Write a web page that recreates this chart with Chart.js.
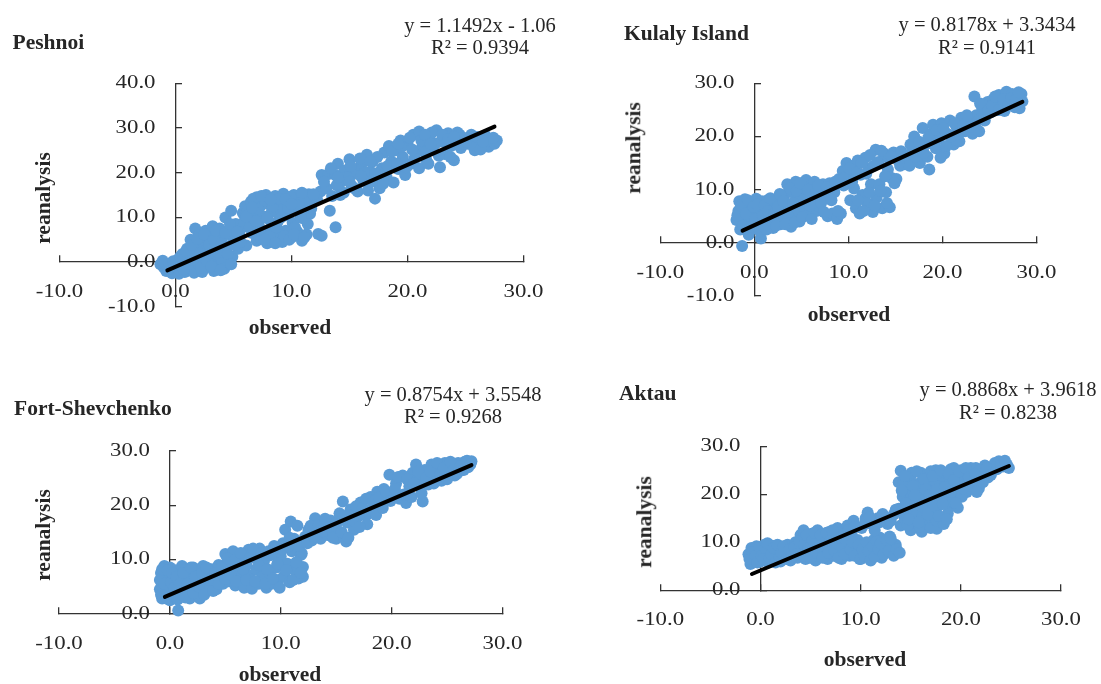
<!DOCTYPE html>
<html lang="en">
<head>
<meta charset="UTF-8">
<title>Observed vs reanalysis</title>
<script src="https://cdn.jsdelivr.net/npm/chart.js"></script>
<style>
  html, body { margin: 0; padding: 0; background: #fff; }
  body {
    width: 1101px; height: 684px; position: relative; overflow: hidden;
    font-family: "Liberation Serif", "Times New Roman", serif; color: #262626;
  }
  .box { position: absolute; }
  .txt { position: absolute; white-space: nowrap; line-height: 1; }
  .title { font-weight: bold; font-size: 21.5px; transform: translateY(-50%); }
  .eq { font-size: 20.5px; transform: translate(-50%, -50%); }
  .xt { font-weight: bold; font-size: 21.5px; transform: translate(-50%, -50%); }
  .yt { font-weight: bold; font-size: 21.5px; transform: translate(-50%, -50%) rotate(-90deg); }
</style>
</head>
<body>

<div class="box" style="left:0;top:0;width:550px;height:342px"><canvas id="c1"></canvas></div>
<div class="box" style="left:550px;top:0;width:551px;height:342px"><canvas id="c2"></canvas></div>
<div class="box" style="left:0;top:342px;width:550px;height:342px"><canvas id="c3"></canvas></div>
<div class="box" style="left:550px;top:342px;width:551px;height:342px"><canvas id="c4"></canvas></div>

<div class="txt title" style="left:12.5px;top:43px">Peshnoi</div>
<div class="txt eq" style="left:480px;top:25px">y = 1.1492x - 1.06</div>
<div class="txt eq" style="left:480px;top:47px">R² = 0.9394</div>
<div class="txt xt" style="left:290px;top:328px">observed</div>
<div class="txt yt" style="left:44px;top:198px">reanalysis</div>

<div class="txt title" style="left:624px;top:33.5px">Kulaly Island</div>
<div class="txt eq" style="left:987px;top:23.5px">y = 0.8178x + 3.3434</div>
<div class="txt eq" style="left:987px;top:46.7px">R² = 0.9141</div>
<div class="txt xt" style="left:849px;top:315px">observed</div>
<div class="txt yt" style="left:634px;top:148px">reanalysis</div>

<div class="txt title" style="left:14px;top:408.7px">Fort-Shevchenko</div>
<div class="txt eq" style="left:453px;top:393.7px">y = 0.8754x + 3.5548</div>
<div class="txt eq" style="left:453px;top:416px">R² = 0.9268</div>
<div class="txt xt" style="left:280px;top:675px">observed</div>
<div class="txt yt" style="left:44px;top:535px">reanalysis</div>

<div class="txt title" style="left:619px;top:393.7px">Aktau</div>
<div class="txt eq" style="left:1008px;top:388.7px">y = 0.8868x + 3.9618</div>
<div class="txt eq" style="left:1008px;top:412px">R² = 0.8238</div>
<div class="txt xt" style="left:865px;top:660px">observed</div>
<div class="txt yt" style="left:644.5px;top:522px">reanalysis</div>

<script>
// tick values
const xTicks = [-10, 0, 10, 20, 30];
const peshnoiTicks = [-10, 0, 10, 20, 30, 40];
const kulalyTicks = [-10, 0, 10, 20, 30];
const fortTicks = [0, 10, 20, 30];
const aktauTicks = [0, 10, 20, 30];

// [observed, reanalysis] pairs
const peshnoi = [
  [-1.3,-0.5],[-1.0,-1.2],[-0.8,-2.0],[-0.5,-0.3],[-0.3,-2.5],[0.0,-1.5],[0.2,0.5],[0.3,-2.6],[0.5,-0.8],[0.6,1.8],
  [0.8,-2.2],[1.0,0.2],[1.0,3.0],[1.2,-1.2],[1.3,5.0],[1.5,1.5],[1.6,-2.4],[1.7,7.5],[1.8,3.8],[2.0,-0.5],
  [2.0,6.0],[2.2,1.0],[2.3,-2.2],[2.4,4.5],[2.5,2.5],[2.6,7.0],[2.8,-1.0],[2.9,5.5],[3.0,0.8],[3.1,3.2],
  [3.2,8.0],[3.3,-2.0],[3.4,6.5],[3.5,1.8],[3.6,4.8],[3.7,-0.5],[3.8,7.5],[3.9,2.8],[4.0,0.5],[4.1,5.8],
  [4.2,-1.5],[4.3,10.0],[4.4,3.5],[4.6,7.0],[4.8,11.5],[4.9,1.2],[5.0,5.0],[5.2,8.5],[5.4,3.0],[5.5,6.2],
  [5.8,7.8],[5.8,11.0],[6.1,3.7],[6.0,12.5],[6.3,9.5],[6.5,13.5],[6.6,6.5],[6.8,11.0],[7.0,14.5],[7.0,4.8],
  [7.2,8.0],[7.3,12.5],[7.5,6.0],[7.6,10.2],[7.8,15.0],[7.9,4.2],[8.0,13.0],[8.2,7.5],[8.3,11.2],[8.5,5.0],
  [8.6,14.8],[8.8,9.0],[8.9,6.5],[9.0,12.0],[9.2,4.5],[9.3,15.3],[9.5,7.0],[9.6,10.5],[9.8,13.5],[10.0,5.5],
  [10.1,8.8],[10.2,15.0],[10.4,11.8],[10.5,6.8],[10.7,14.0],[10.9,4.8],[11.0,9.8],[11.2,12.8],[11.3,6.2],[11.5,15.2],
  [11.6,10.8],[11.8,13.5],[12.3,6.3],[12.6,5.9],[13.8,7.8],[13.3,11.5],[12.5,15.8],[12.2,14.0],[12.6,19.5],[13.2,19.7],
  [13.8,19.5],[13.0,16.5],[13.5,14.8],[14.0,22.0],[14.3,18.0],[14.5,15.5],[14.6,20.5],[15.0,23.0],[15.2,17.0],[15.5,19.8],
  [15.7,15.8],[16.0,21.5],[16.2,18.2],[16.5,24.0],[16.6,16.0],[16.8,20.2],[17.0,22.5],[17.2,14.2],[17.3,18.5],[17.6,16.5],
  [17.8,21.0],[18.0,24.5],[18.2,19.0],[18.4,26.0],[18.6,22.5],[18.8,17.8],[19.0,25.0],[19.2,20.8],[19.4,27.2],[19.6,23.5],
  [19.8,19.5],[20.0,26.5],[20.3,22.0],[20.5,28.5],[20.7,24.5],[21.0,29.2],[21.0,21.0],[21.3,26.0],[21.6,23.0],[21.9,28.0],
  [22.2,25.0],[22.5,29.5],[22.8,21.2],[22.9,27.0],[23.2,24.2],[23.5,28.8],[23.8,26.0],[24.0,22.8],[24.3,29.0],[24.6,25.5],
  [24.8,27.8],[25.2,26.5],[25.5,28.5],[25.8,25.0],[26.1,27.5],[26.4,26.0],[26.7,28.3],[27.0,25.8],[27.2,27.0],[27.5,26.5],
  [27.7,27.2],
  [-1.1,0.3],[-0.6,-1.5],[-0.2,0.2],[0.1,-0.6],[0.4,1.2],[0.7,-1.6],[0.9,2.4],[1.1,-0.4],[1.4,3.8],[1.5,0.6],
  [1.9,5.2],[2.1,2.0],[2.2,-1.2],[2.5,6.2],[2.7,0.2],[2.9,3.8],[3.1,-1.0],[3.3,5.0],[3.5,7.0],[3.7,2.2],
  [3.9,-1.8],[4.0,4.2],[4.3,6.5],[4.5,1.8],[4.7,8.5],[4.8,-0.5],[5.1,3.8],[5.3,6.8],[5.6,4.5],[5.9,9.0],
  [6.2,11.5],[6.4,7.8],[6.7,14.2],[6.9,9.2],[7.1,12.0],[7.4,5.2],[7.7,13.8],[7.9,9.8],[8.1,5.8],[8.4,12.5],
  [8.7,7.8],[8.9,14.2],[9.1,10.0],[9.4,5.8],[9.7,12.2],[9.9,14.6],[10.3,7.8],[10.6,12.8],[10.8,10.0],[11.1,14.6],
  [11.4,8.5],[11.7,12.0],[12.8,18.0],[13.4,21.0],[13.9,17.2],[14.2,15.0],[14.8,19.0],[15.1,21.5],[15.4,16.5],[15.9,23.2],
  [16.3,20.0],[16.9,18.0],[17.4,23.5],[17.6,20.0],[17.9,17.5],[18.3,21.5],[18.7,24.8],[19.1,22.0],[19.5,25.8],[19.9,21.2],
  [20.2,27.8],[20.6,23.2],[21.2,27.2],[21.5,24.5],[21.8,22.0],[22.1,29.0],[22.4,26.5],[22.7,23.8],[23.0,28.5],[23.4,26.5],
  [23.7,23.5],[24.1,27.0],[24.5,28.5],[24.9,26.5],[25.3,27.5],[25.6,26.2],[26.0,28.0],[26.3,25.2],[26.9,27.2],[27.4,27.8],
  [6.1,10.2],[6.6,12.2],[7.4,14.8],[8.2,14.0],[9.5,14.0],[10.0,13.0],[10.9,15.5],[11.9,15.2],[7.7,5.0],[8.6,4.2],
  [9.8,5.0],[10.2,6.2],[11.1,5.5],[14.0,19.0],[15.0,18.0],[16.0,19.2],[16.8,22.5],[17.2,19.8],[19.2,26.5],[20.4,25.2],
  [21.5,28.5],[22.0,26.5],[23.5,27.5],[24.0,28.0],[25.0,27.0],[26.5,27.0]
];

const kulaly = [
  [-1.3,-0.6],[-1.9,4.3],[-1.7,6.0],[-1.6,7.8],[-1.5,2.5],[-1.3,5.2],[-1.0,8.2],[-1.0,3.5],[-0.8,6.8],[-0.6,1.5],
  [-0.5,4.5],[-0.3,7.5],[0.0,5.8],[0.0,2.8],[0.2,8.3],[0.4,4.0],[0.5,6.5],[0.7,0.8],[0.8,7.8],[1.0,3.0],
  [1.2,5.5],[1.4,8.0],[1.6,4.2],[1.8,6.8],[2.0,2.8],[2.2,7.5],[2.4,4.8],[2.6,8.5],[2.8,3.5],[3.0,6.0],
  [3.2,9.0],[3.4,4.5],[3.5,11.0],[3.7,7.2],[3.9,3.0],[4.0,9.5],[4.2,5.5],[4.4,11.5],[4.6,8.0],[4.8,4.0],
  [5.0,10.2],[5.2,6.5],[5.5,11.8],[5.6,8.8],[5.8,5.2],[6.0,10.8],[6.2,7.5],[6.4,11.5],[6.6,6.0],[6.9,6.8],
  [7.0,9.8],[7.3,11.0],[7.6,8.5],[7.8,5.0],[8.0,11.2],[8.3,5.5],[8.5,9.5],[8.8,4.5],[9.0,12.0],[9.2,5.5],
  [9.5,10.8],[9.4,13.5],[9.8,15.0],[10.0,12.5],[10.2,8.0],[10.5,14.5],[10.6,10.2],[10.8,6.5],[11.0,15.5],[11.2,5.5],
  [11.3,12.8],[11.5,9.0],[11.8,16.0],[12.0,7.5],[12.2,14.0],[12.4,11.0],[12.6,5.8],[12.9,17.5],[13.0,8.5],[13.2,15.2],
  [13.3,11.0],[13.6,6.5],[13.8,16.8],[14.0,9.5],[14.2,13.8],[14.4,6.7],[14.6,12.2],[14.8,17.0],[15.1,12.0],[15.3,15.5],
  [15.6,17.2],[16.0,14.8],[16.3,16.5],[16.6,18.5],[16.8,15.2],[17.0,20.0],[17.3,17.0],[17.6,15.0],[17.9,21.6],[18.2,18.5],
  [18.4,16.2],[18.6,13.8],[18.8,20.5],[19.0,22.2],[19.3,17.8],[19.6,19.5],[19.9,22.5],[20.2,16.8],[20.5,20.5],[20.8,23.0],
  [21.2,18.5],[21.5,21.8],[21.8,19.1],[22.0,23.5],[22.4,21.0],[22.8,22.8],[23.2,20.5],[23.4,27.5],[23.6,24.0],[23.9,21.0],
  [24.2,25.5],[24.5,23.0],[24.8,26.5],[25.1,24.5],[25.4,27.0],[25.7,25.2],[26.0,27.8],[26.3,26.0],[26.6,24.8],[26.8,28.4],
  [27.1,26.8],[27.4,28.0],[27.7,25.5],[28.0,27.5],[28.2,25.3],[28.5,26.6],[28.4,28.0],
  [-1.8,5.2],[-1.4,7.0],[-1.2,3.2],[-0.9,5.5],[-0.7,8.0],[-0.4,3.0],[-0.1,6.8],[0.1,4.5],[0.3,7.2],[0.6,2.2],
  [0.9,5.0],[1.1,7.0],[1.3,2.5],[1.5,6.0],[1.7,8.4],[1.9,4.0],[2.1,5.5],[2.3,3.2],[2.5,6.8],[2.7,9.2],
  [2.9,5.0],[3.1,7.8],[3.3,3.5],[3.6,5.8],[3.8,10.2],[4.1,7.5],[4.3,3.8],[4.5,9.8],[4.7,6.0],[4.9,11.2],
  [5.1,4.8],[5.3,8.2],[5.7,10.0],[5.9,7.0],[6.1,4.5],[6.5,9.2],[6.8,10.8],[7.1,7.5],[7.4,5.8],[7.7,10.5],
  [8.2,8.0],[8.6,11.5],[8.9,6.0],[9.6,12.2],[10.1,14.0],[10.4,11.5],[10.9,13.2],[11.4,15.0],[11.9,13.0],[12.3,16.5],
  [12.7,14.5],[11.0,8.0],[11.6,6.0],[12.2,9.5],[12.8,7.0],[13.4,9.8],[13.9,12.5],[14.1,7.5],[14.9,11.2],[13.5,17.3],
  [14.3,15.8],[14.6,16.2],[15.5,14.5],[15.9,16.0],[16.5,14.5],[17.1,16.2],[17.5,19.0],[18.0,17.0],[18.5,19.8],[19.1,18.5],
  [19.4,21.2],[19.8,16.0],[20.1,21.5],[20.4,18.2],[20.9,20.0],[21.3,22.5],[21.7,20.5],[22.2,22.0],[22.6,24.0],[23.0,21.8],
  [23.8,23.0],[24.0,26.2],[24.4,24.2],[24.9,25.0],[25.3,25.8],[25.6,27.5],[26.0,25.0],[26.5,27.0],[27.0,25.8],[27.3,27.2],
  [27.8,26.8],[28.1,28.3]
];

const fortShevchenko = [
  [-0.9,4.5],[-0.8,7.5],[-0.7,2.8],[-0.6,6.0],[-0.5,8.8],[-0.4,3.8],[-0.3,5.2],[-0.2,7.0],[0.0,2.5],[0.0,8.5],
  [0.2,4.2],[0.3,6.5],[0.4,3.2],[0.5,8.0],[0.75,0.6],[0.6,5.0],[0.8,7.2],[1.0,3.5],[1.1,8.8],[1.3,5.8],
  [1.5,4.0],[1.6,7.5],[1.8,2.8],[2.0,6.2],[2.1,8.5],[2.3,4.5],[2.5,7.0],[2.7,2.8],[2.8,5.5],[3.0,8.8],
  [3.2,4.2],[3.4,6.8],[3.6,5.0],[3.8,8.2],[4.0,6.0],[4.2,4.5],[4.4,9.0],[4.6,7.0],[4.8,5.5],[5.0,11.0],
  [5.1,8.2],[5.3,6.0],[5.5,9.5],[5.7,11.5],[5.9,5.2],[6.1,8.0],[6.3,10.2],[6.5,6.5],[6.7,4.8],[6.9,9.0],
  [7.1,11.8],[7.2,7.0],[7.4,4.6],[7.6,10.5],[7.8,8.2],[8.0,5.5],[8.1,12.0],[8.3,6.8],[8.5,9.8],[8.7,4.8],
  [8.9,11.5],[9.0,7.5],[9.2,5.5],[9.4,12.5],[9.6,8.5],[9.8,6.2],[10.0,10.5],[10.2,13.0],[10.3,7.0],[10.4,15.5],
  [10.6,9.2],[10.8,5.8],[10.9,17.0],[11.0,11.5],[11.2,13.8],[11.3,8.0],[11.5,16.2],[11.6,6.5],[11.8,10.8],[12.0,6.8],
  [12.0,8.6],[11.9,11.1],[12.2,14.2],[12.5,15.5],[12.8,13.5],[13.1,17.6],[13.3,15.0],[13.6,13.8],[13.9,16.5],[14.2,14.5],
  [14.5,17.2],[14.8,15.8],[15.0,13.8],[15.3,18.5],[15.6,20.7],[15.9,13.3],[16.0,16.8],[16.3,19.2],[16.6,15.5],[16.9,17.8],
  [17.2,20.5],[17.5,18.2],[17.8,16.5],[18.1,21.5],[18.4,19.5],[18.7,22.5],[19.0,20.0],[19.3,23.0],[19.6,21.0],[19.8,25.6],
  [20.1,22.2],[20.4,24.0],[20.7,21.2],[21.0,25.5],[21.3,20.4],[21.6,23.5],[21.9,26.0],[22.2,27.5],[22.5,24.5],[22.8,20.7],
  [23.0,26.5],[23.3,23.8],[23.6,27.5],[23.9,25.2],[24.2,26.8],[24.5,24.5],[24.8,27.8],[25.1,26.0],[25.4,27.2],[25.7,25.5],
  [26.0,27.8],[26.3,26.5],[26.6,28.0],[26.9,27.0],[27.2,28.1],
  [-0.9,6.2],[-0.8,3.5],[-0.7,8.2],[-0.5,5.5],[-0.3,2.8],[-0.2,8.0],[0.1,5.8],[0.2,7.5],[0.4,4.8],[0.6,6.8],
  [0.7,2.6],[0.9,5.5],[1.2,7.5],[1.4,3.0],[1.6,5.5],[1.9,8.5],[2.1,3.8],[2.3,6.8],[2.6,5.0],[2.9,7.5],
  [3.1,3.5],[3.3,8.5],[3.6,6.2],[3.9,4.2],[4.1,7.5],[4.4,5.5],[4.7,8.5],[5.0,6.5],[5.2,10.2],[5.5,7.2],
  [5.8,9.8],[6.0,6.0],[6.4,11.2],[6.6,8.2],[6.9,6.2],[7.2,10.2],[7.5,12.0],[7.7,6.0],[8.0,9.0],[8.3,11.2],
  [8.6,5.5],[8.8,8.2],[9.1,10.8],[9.3,6.5],[9.5,12.0],[9.7,9.2],[9.9,4.8],[10.1,11.8],[10.5,8.0],[10.7,12.5],
  [10.8,14.0],[11.1,6.2],[11.4,9.5],[11.7,12.5],[11.8,7.5],[12.4,13.0],[12.7,16.2],[13.0,14.2],[13.4,16.2],[13.8,15.2],
  [14.0,17.5],[14.4,16.0],[14.7,14.0],[15.1,16.8],[15.5,15.0],[15.8,18.0],[16.1,14.0],[16.5,17.2],[16.8,19.8],[17.1,16.0],
  [17.4,19.5],[17.7,21.2],[18.0,18.5],[18.3,20.5],[18.6,18.2],[18.9,21.5],[19.2,19.5],[19.5,22.5],[19.9,20.8],[20.3,23.0],
  [20.6,25.2],[21.1,22.0],[21.4,24.8],[21.8,21.5],[22.0,24.0],[22.4,26.2],[22.7,22.2],[23.1,25.0],[23.5,26.2],[23.8,24.0],
  [24.1,27.8],[24.4,25.8],[24.7,26.8],[25.0,24.8],[25.3,28.0],[25.6,26.5],[25.9,25.8],[26.2,27.2],[26.5,26.5],[26.8,28.2],
  [27.1,27.5]
];

const aktau = [
  [-1.0,5.5],[-1.2,7.5],[-0.9,8.8],[-0.6,6.5],[-0.4,9.2],[-0.2,7.8],[0.0,6.0],[0.2,8.5],[0.4,9.5],[0.6,7.0],
  [0.8,5.8],[1.0,8.2],[1.2,9.3],[1.4,6.5],[1.6,7.8],[1.8,9.0],[2.0,6.0],[2.2,8.5],[2.5,7.2],[2.7,9.5],
  [3.0,6.2],[3.2,8.0],[3.5,10.0],[3.7,6.8],[4.0,11.5],[4.1,8.5],[4.3,12.5],[4.5,6.5],[4.7,10.2],[4.9,7.8],
  [5.1,11.8],[5.3,9.0],[5.5,6.2],[5.7,12.5],[5.9,10.0],[6.1,7.5],[6.3,11.0],[6.5,8.8],[6.7,6.5],[6.9,12.2],
  [7.1,9.5],[7.3,7.2],[7.5,11.0],[7.7,13.0],[7.9,8.5],[8.1,6.5],[8.3,11.8],[8.5,9.2],[8.7,13.5],[8.9,7.2],
  [9.1,12.0],[9.3,14.5],[9.5,8.0],[9.7,10.5],[9.9,6.5],[10.1,13.0],[10.3,9.2],[10.5,15.0],[10.7,16.2],[10.9,7.0],
  [11.1,13.8],[11.3,10.5],[11.5,8.0],[11.7,15.0],[11.9,11.0],[12.1,6.8],[12.2,15.9],[12.4,9.0],[12.7,13.8],[12.9,11.2],
  [13.1,8.0],[13.3,15.8],[13.5,9.5],[13.8,22.5],[14.0,24.9],[13.8,17.0],[14.0,13.5],[14.2,19.5],[14.4,15.0],[14.6,21.5],
  [14.8,17.5],[15.0,12.5],[15.0,23.8],[15.2,19.0],[15.4,14.5],[15.6,22.0],[15.8,16.5],[16.0,24.5],[16.1,12.2],[16.3,20.5],
  [16.5,18.0],[16.7,14.0],[16.9,23.0],[17.1,21.5],[17.3,16.0],[17.5,25.0],[17.6,12.8],[17.8,19.2],[18.0,22.8],[18.2,15.0],
  [18.4,24.5],[18.6,20.0],[18.8,17.5],[19.0,25.2],[19.2,22.0],[19.4,19.0],[19.6,24.0],[19.8,21.0],[20.0,25.0],[20.3,22.5],
  [20.6,20.5],[20.9,24.2],[21.2,22.0],[21.5,25.5],[21.8,21.2],[22.1,24.0],[22.4,26.0],[22.7,23.5],[23.0,25.2],[23.4,26.5],
  [23.8,26.9],[24.2,25.8],[24.6,26.2],[24.8,25.5],
  [-1.1,6.5],[-0.8,8.0],[-0.5,7.2],[-0.3,5.8],[-0.1,9.0],[0.1,7.2],[0.3,6.5],[0.5,8.8],[0.7,9.8],[0.9,6.8],
  [1.1,7.5],[1.3,8.8],[1.5,5.8],[1.7,9.5],[1.9,7.0],[2.1,7.8],[2.3,9.2],[2.6,6.5],[2.9,8.5],[3.1,7.0],
  [3.4,9.0],[3.6,7.5],[3.9,10.2],[4.2,7.2],[4.4,9.5],[4.6,11.5],[4.8,8.8],[5.0,6.8],[5.2,10.5],[5.4,12.0],
  [5.6,7.8],[5.8,9.2],[6.0,11.5],[6.2,6.8],[6.4,9.8],[6.6,12.0],[6.8,7.8],[7.0,10.5],[7.2,12.5],[7.4,8.2],
  [7.6,9.8],[7.8,6.8],[8.0,11.0],[8.2,9.0],[8.4,7.5],[8.6,10.2],[8.8,12.5],[9.0,8.5],[9.2,10.0],[9.4,13.2],
  [9.4,7.2],[9.8,9.5],[10.0,6.5],[10.2,8.5],[10.4,7.2],[10.6,10.0],[10.8,8.2],[11.0,6.2],[11.2,9.2],[11.4,7.0],
  [11.6,10.2],[11.8,8.5],[12.0,9.8],[12.3,7.5],[12.6,10.5],[12.8,8.2],[13.0,10.8],[13.3,7.2],[13.6,8.5],[13.9,7.8],
  [10.4,13.8],[10.9,15.2],[11.4,12.5],[11.9,14.2],[12.5,15.0],[13.0,14.5],[13.5,16.8],[14.2,16.5],[14.3,22.5],[14.5,18.2],
  [14.7,13.5],[14.9,20.5],[15.1,24.5],[15.3,16.0],[15.5,21.2],[15.7,18.5],[15.9,13.2],[16.0,22.5],[16.2,15.5],[16.4,24.0],
  [16.6,19.5],[16.8,16.5],[17.0,13.0],[17.0,24.8],[17.2,19.0],[17.4,22.8],[17.6,14.5],[17.7,17.5],[17.9,24.0],[18.1,20.5],
  [18.3,13.8],[18.5,22.5],[18.7,16.0],[18.9,23.5],[19.1,18.5],[19.3,25.5],[19.5,21.5],[19.7,17.2],[19.9,23.0],[20.1,19.5],
  [20.4,24.2],[20.7,22.5],[21.0,25.5],[21.3,23.0],[21.6,20.5],[21.9,25.0],[22.2,22.5],[22.6,25.5],[23.0,24.0],[23.6,25.2],
  [24.0,26.0],[24.4,27.0],
  [14.1,20.8],[14.4,23.8],[14.6,17.0],[14.8,14.8],[15.2,21.8],[15.4,19.8],[15.6,24.8],[15.8,14.2],[16.1,17.5],[16.3,23.2],
  [16.5,21.0],[16.7,15.8],[16.9,19.8],[17.2,23.8],[17.4,17.5],[17.6,21.0],[17.8,15.5],[18.0,25.0],[18.2,18.0],[18.4,21.5],
  [18.6,14.8],[18.8,24.2],[19.0,20.5],[19.3,23.0],[19.5,18.2],[19.8,24.8],[20.2,21.2],[20.5,25.5],[20.8,23.5],[21.4,24.2]
];

// trend line end points
const peshnoiTrend = [[-0.7, -1.85], [27.5, 30.3]];
const kulalyTrend = [[-1.25, 2.3], [28.5, 26.5]];
const fortTrend = [[-0.45, 3.1], [27.2, 27.4]];
const aktauTrend = [[-0.85, 3.4], [24.8, 25.9]];

const panels = [
  { id: 'c1', pts: peshnoi, trend: peshnoiTrend, yTicks: peshnoiTicks, pad: { left: 59.5, right: 26.5, top: 83.3, bottom: 35.2 } },
  { id: 'c2', pts: kulaly, trend: kulalyTrend, yTicks: kulalyTicks, pad: { left: 110.3, right: 64.5, top: 83.3, bottom: 46 } },
  { id: 'c3', pts: fortShevchenko, trend: fortTrend, yTicks: fortTicks, pad: { left: 59, right: 47.5, top: 109, bottom: 70.3 } },
  { id: 'c4', pts: aktau, trend: aktauTrend, yTicks: aktauTicks, pad: { left: 110.3, right: 40, top: 104.3, bottom: 93.7 } }
];

const axisColor = '#333333';

// tick labels, slightly stretched like the original
const tickText = {
  id: 'tickText',
  afterDraw(chart) {
    const { ctx, scales: { x, y } } = chart;
    const x0 = x.getPixelForValue(0);
    const y0 = y.getPixelForValue(0);
    ctx.save();
    ctx.fillStyle = '#262626';
    ctx.font = '19px "Liberation Serif"';
    ctx.textBaseline = 'middle';
    const put = (txt, px, py, align) => {
      ctx.save();
      ctx.translate(px, py);
      ctx.scale(1.2, 1);
      ctx.textAlign = align;
      ctx.fillText(txt, 0, 0);
      ctx.restore();
    };
    x.ticks.forEach(t => put(t.value.toFixed(1), x.getPixelForValue(t.value), y0 + 30, 'center'));
    y.ticks.forEach(t => put(t.value.toFixed(1), x0 - 20, y.getPixelForValue(t.value), 'right'));
    ctx.restore();
  }
};

panels.forEach(p => {
  new Chart(document.getElementById(p.id), {
    type: 'scatter',
    data: {
      datasets: [
        {
          data: p.trend.map(([x, y]) => ({ x, y })),
          showLine: true,
          borderColor: '#000',
          borderWidth: 4,
          borderCapStyle: 'round',
          pointRadius: 0,
          order: 0,
          clip: false
        },
        {
          data: p.pts.map(([x, y]) => ({ x, y })),
          backgroundColor: '#5B9BD5',
          borderWidth: 0,
          pointRadius: 6,
          order: 1,
          clip: false
        }
      ]
    },
    options: {
      responsive: true,
      maintainAspectRatio: false,
      animation: false,
      events: [],
      layout: { padding: p.pad },
      plugins: { legend: { display: false }, tooltip: { enabled: false } },
      scales: {
        x: {
          type: 'linear', axis: 'x',
          min: -10, max: 30,
          position: { y: 0 },
          afterBuildTicks: s => { s.ticks = xTicks.map(v => ({ value: v })); },
          afterFit: s => { s.height = 0; },
          ticks: { display: false },
          grid: { display: true, drawOnChartArea: false, drawTicks: true, tickLength: -7, color: axisColor, lineWidth: 1.3 },
          border: { display: true, color: axisColor, width: 1.3 }
        },
        y: {
          type: 'linear', axis: 'y',
          min: p.yTicks[0], max: p.yTicks[p.yTicks.length - 1],
          position: { x: 0 },
          afterBuildTicks: s => { s.ticks = p.yTicks.map(v => ({ value: v })); },
          afterFit: s => { s.width = 0; },
          ticks: { display: false },
          grid: { display: true, drawOnChartArea: false, drawTicks: true, tickLength: -7, color: axisColor, lineWidth: 1.3 },
          border: { display: true, color: axisColor, width: 1.3 }
        }
      }
    },
    plugins: [tickText]
  });
});
</script>
</body>
</html>
